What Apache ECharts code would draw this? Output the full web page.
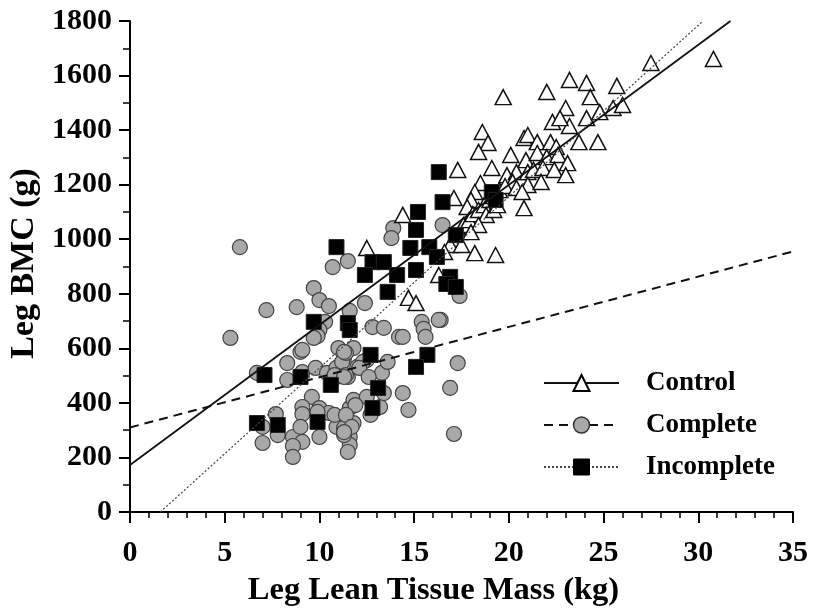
<!DOCTYPE html>
<html>
<head>
<meta charset="utf-8">
<script src="https://cdn.jsdelivr.net/npm/echarts@6/dist/echarts.min.js"></script>
<style>
  html, body { margin: 0; padding: 0; background: #fff; }
  #chart { width: 818px; height: 609px; }
</style>
</head>
<body>
<div id="chart"></div>
<script>
// axis settings
const xMin = 0, xMax = 35, xStep = 5
const yMin = 0, yMax = 1800, yStep = 200

// regression lines: [x, y] end points
const controlFit = [[0, 172], [31.7, 1800]]
const completeFit = [[0, 310], [35, 955]]
const incompleteFit = [[1.6, 0], [30.25, 1800]]

// Control (open triangles)
const controlPts = [
  [19.7, 1521], [22.0, 1540], [23.2, 1584], [24.1, 1573], [24.3, 1521], [25.7, 1562], [27.5, 1646], [30.8, 1661],
  [23.0, 1481], [22.3, 1430], [23.2, 1415], [24.1, 1444], [24.8, 1466], [25.5, 1481], [26.0, 1492], [18.6, 1393],
  [18.9, 1353], [18.4, 1320], [20.8, 1371], [21.0, 1382], [21.5, 1356], [22.2, 1356], [22.5, 1338], [23.7, 1356],
  [24.7, 1356], [20.1, 1309], [20.9, 1290], [21.5, 1316], [22.0, 1301], [22.6, 1309], [23.1, 1279], [19.1, 1261],
  [19.9, 1235], [20.4, 1246], [21.0, 1246], [21.3, 1254], [21.8, 1261], [22.4, 1254], [23.0, 1235], [20.2, 1210],
  [21.0, 1199], [21.7, 1210], [17.3, 1254], [17.1, 1151], [18.5, 1206], [18.2, 1173], [18.0, 1144], [17.8, 1118],
  [20.8, 1114], [18.2, 949], [19.3, 942], [16.3, 869], [14.4, 1089], [12.5, 968], [14.7, 785], [15.1, 766],
  [22.7, 1444], [17.2, 997], [17.4, 1026], [17.6, 1052], [17.9, 1070], [18.1, 1092], [18.4, 1107], [18.7, 1125],
  [19.0, 1144], [19.2, 1158], [19.5, 1180], [19.8, 1195], [18.8, 1089], [19.2, 1107], [19.4, 1125], [18.4, 1052],
  [18.0, 1026], [16.9, 979], [16.6, 953], [17.5, 979], [20.4, 1188], [20.7, 1173]
]

// Complete (grey circles)
const completePts = [
  [5.8, 971], [5.3, 638], [7.2, 740], [8.8, 751], [10.7, 898], [11.5, 920], [13.9, 1041], [9.7, 821],
  [10.0, 777], [10.5, 755], [11.6, 737], [10.3, 697], [10.0, 667], [9.9, 645], [12.4, 766], [12.8, 678],
  [13.4, 675], [14.2, 642], [9.0, 587], [8.3, 546], [8.3, 484], [9.1, 513], [9.8, 528], [10.4, 510],
  [10.9, 528], [11.3, 565], [11.8, 601], [11.5, 495], [10.7, 484], [9.6, 422], [9.1, 385], [9.1, 359],
  [10.0, 381], [10.5, 363], [11.1, 348], [11.6, 381], [11.8, 411], [12.5, 422], [13.2, 385], [13.4, 436],
  [13.3, 510], [13.6, 550], [12.5, 557], [12.0, 532], [7.7, 359], [7.0, 312], [7.0, 253], [7.8, 282],
  [8.6, 275], [9.1, 257], [8.6, 242], [8.6, 202], [10.0, 275], [10.9, 312], [11.3, 308], [11.6, 275],
  [11.6, 246], [11.5, 220], [11.8, 326], [14.4, 436], [14.7, 374], [6.7, 510], [9.1, 594], [9.7, 638],
  [11.0, 601], [11.2, 550], [10.8, 502], [11.4, 502], [9.0, 312], [9.9, 367], [10.8, 356], [11.3, 282],
  [11.4, 583], [15.4, 697], [15.5, 671], [15.6, 642], [16.4, 704], [17.4, 792], [17.3, 546], [16.9, 455],
  [17.1, 286], [11.3, 587], [12.3, 550], [12.1, 528], [12.6, 495], [11.3, 495], [11.9, 392], [11.4, 356],
  [11.7, 312], [11.3, 293], [12.7, 356], [13.8, 1004], [16.5, 1052], [16.3, 704], [14.4, 642]
]

// Incomplete (black squares)
const incompletePts = [
  [10.9, 971], [16.3, 1246], [16.5, 1136], [15.2, 1100], [15.1, 1034], [14.8, 968], [12.8, 916], [13.4, 916],
  [12.4, 869], [14.1, 869], [15.1, 887], [15.8, 971], [16.2, 935], [16.9, 862], [17.2, 1015], [16.7, 836],
  [17.2, 825], [19.1, 1173], [19.3, 1144], [9.7, 697], [11.5, 693], [11.6, 667], [7.1, 502], [9.0, 495],
  [10.6, 466], [12.7, 576], [13.1, 455], [12.8, 381], [6.7, 326], [7.8, 319], [9.9, 330], [13.6, 807],
  [15.7, 576], [15.1, 532]
]

const serif = '"Liberation Serif", "Times New Roman", serif'
const chart = echarts.init(document.getElementById('chart'))

const axisCommon = {
  axisLine: { show: true, lineStyle: { color: '#000', width: 2 } },
  axisTick: { show: true, length: 11, lineStyle: { color: '#000', width: 2 } },
  splitLine: { show: false },
  axisLabel: { color: '#000', fontFamily: serif, fontWeight: 'bold', fontSize: 30, formatter: v => String(v) },
  nameTextStyle: { color: '#000', fontFamily: serif, fontWeight: 'bold', fontSize: 32 }
}

chart.setOption({
  animation: false,
  backgroundColor: '#fff',
  grid: { left: 130, right: 25, top: 21, bottom: 97, outerBoundsMode: 'none' },
  xAxis: {
    ...axisCommon,
    type: 'value',
    min: xMin, max: xMax, interval: xStep,
    name: 'Leg Lean Tissue Mass (kg)',
    nameLocation: 'middle',
    nameGap: 62,
    nameTextStyle: { ...axisCommon.nameTextStyle, fontSize: 32.5, padding: [0, 56, 0, 0] },
    minorTick: { show: true, splitNumber: 5, length: 6, lineStyle: { color: '#000', width: 1.5 } },
    axisLabel: { ...axisCommon.axisLabel, margin: 26 }
  },
  yAxis: {
    ...axisCommon,
    type: 'value',
    min: yMin, max: yMax, interval: yStep,
    name: 'Leg BMC (g)',
    nameLocation: 'middle',
    nameGap: 86,
    nameTextStyle: { ...axisCommon.nameTextStyle, fontSize: 34, padding: [0, 0, 0, 6] },
    minorTick: { show: true, splitNumber: 2, length: 7, lineStyle: { color: '#000', width: 1.5 } },
    axisLabel: { ...axisCommon.axisLabel, margin: 18 }
  },
  legend: {
    orient: 'vertical',
    left: 538,
    top: 364,
    itemWidth: 75,
    itemHeight: 20,
    itemGap: 14,
    selectedMode: false,
    textStyle: { color: '#000', fontFamily: serif, fontWeight: 'bold', fontSize: 27, lineHeight: 28, padding: [0, 0, 0, 22] },
    data: [
      { name: 'Control', itemStyle: { color: '#fff', borderColor: '#000', borderWidth: 2 } },
      { name: 'Complete', itemStyle: { color: '#a8a8a8', borderColor: '#333', borderWidth: 1.5 } },
      { name: 'Incomplete', itemStyle: { color: '#000', borderColor: '#000', borderWidth: 1 } }
    ]
  },
  series: [
    {
      name: 'Control', type: 'line', data: controlFit, z: 5,
      symbol: 'triangle', showSymbol: false, silent: true,
      lineStyle: { color: '#111', width: 1.8, type: 'solid' }
    },
    {
      name: 'Complete', type: 'line', data: completeFit, z: 5,
      symbol: 'circle', showSymbol: false, silent: true,
      lineStyle: { color: '#111', width: 2, type: [9, 6] }
    },
    {
      name: 'Incomplete', type: 'line', data: incompleteFit, z: 5,
      symbol: 'rect', showSymbol: false, silent: true,
      lineStyle: { color: '#444', width: 1.2, type: [2, 2] }
    },
    {
      name: 'Complete points', type: 'scatter', data: completePts, z: 2,
      symbol: 'circle', symbolSize: 15,
      itemStyle: { color: '#a8a8a8', borderColor: '#444', borderWidth: 1.2, opacity: 1 }
    },
    {
      name: 'Control points', type: 'scatter', data: controlPts, z: 3,
      symbol: 'triangle', symbolSize: [16, 15],
      itemStyle: { color: '#fff', borderColor: '#111', borderWidth: 1.5, opacity: 1 }
    },
    {
      name: 'Incomplete points', type: 'scatter', data: incompletePts, z: 4,
      symbol: 'rect', symbolSize: 15,
      itemStyle: { color: '#000', borderColor: '#222', borderWidth: 1, opacity: 1 }
    }
  ]
})
</script>
</body>
</html>
